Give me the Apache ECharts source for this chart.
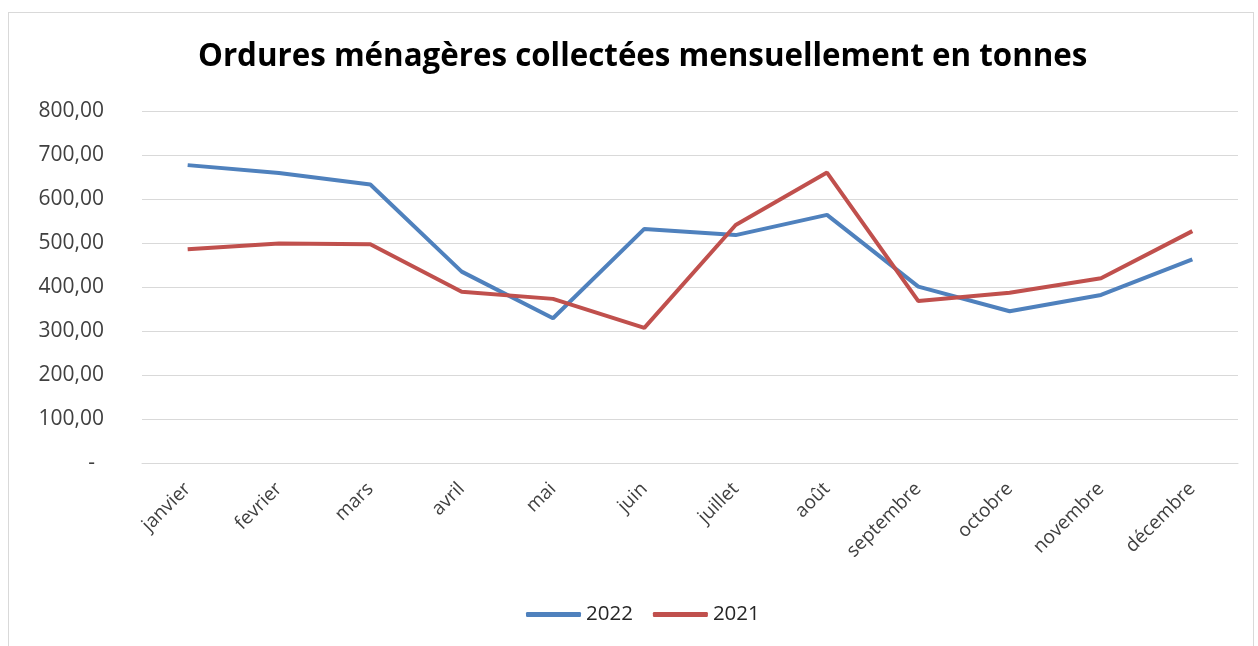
<!DOCTYPE html>
<html>
<head>
<meta charset="utf-8">
<script src="https://cdn.jsdelivr.net/npm/echarts@6/dist/echarts.min.js"></script>
<style>
  html, body { margin: 0; padding: 0; background: #fff; }
  #frame { position: absolute; left: 8px; top: 12px; width: 1246px; height: 640px; border: 1px solid #d9d9d9; box-sizing: border-box; }
  #chart { position: absolute; left: 0; top: 0; width: 1258px; height: 646px; }
</style>
</head>
<body>
<div id="frame"></div>
<div id="chart"></div>
<script>
const mois = ['janvier', 'fevrier', 'mars', 'avril', 'mai', 'juin', 'juillet', 'août', 'septembre', 'octobre', 'novembre', 'décembre'];
const tonnes2022 = [677, 659, 633, 435, 329, 532, 518, 564, 401, 345, 382, 463];
const tonnes2021 = [486, 499, 497, 389, 373, 307, 541, 660, 368, 387, 420, 527];

const chart = echarts.init(document.getElementById('chart'));

const fontFam = '"Open Sans", "Noto Sans", sans-serif';

chart.setOption({
    animation: false,
    backgroundColor: 'rgba(0,0,0,0)',
    title: {
        text: 'Ordures ménagères collectées mensuellement en tonnes',
        left: 193,
        top: 37,
        textStyle: { fontFamily: fontFam, fontSize: 31.3, fontWeight: 'bold', color: '#000' }
    },
    grid: { left: 142, right: 20, top: 111, bottom: 183 },
    legend: {
        top: 599,
        left: 521,
        itemWidth: 55,
        itemHeight: 5,
        itemGap: 20,
        icon: 'roundRect',
        textStyle: { fontFamily: fontFam, fontSize: 20.5, color: '#262626' },
        data: ['2022', '2021']
    },
    xAxis: {
        type: 'category',
        data: mois,
        boundaryGap: true,
        axisLine: { lineStyle: { color: '#d9d9d9' } },
        axisTick: { show: false },
        axisLabel: { rotate: 45, margin: 23, fontFamily: fontFam, fontSize: 19, color: '#404040' }
    },
    yAxis: {
        type: 'value',
        min: 0,
        max: 800,
        interval: 100,
        axisLine: { show: false },
        axisTick: { show: false },
        splitLine: { lineStyle: { color: '#d9d9d9', width: 1 } },
        axisLabel: {
            margin: 38,
            fontFamily: fontFam,
            fontSize: 21,
            color: '#404040',
            formatter: v => v === 0 ? '{z|-}' : v.toFixed(2).replace('.', ','),
            rich: { z: { fontFamily: fontFam, fontSize: 21, color: '#404040', padding: [0, 9, 0, 0] } }
        }
    },
    series: [
        {
            name: '2022',
            type: 'line',
            data: tonnes2022,
            symbol: 'none',
            lineStyle: { width: 4, color: '#4F81BD' },
            itemStyle: { color: '#4F81BD' }
        },
        {
            name: '2021',
            type: 'line',
            data: tonnes2021,
            symbol: 'none',
            lineStyle: { width: 4, color: '#C0504D' },
            itemStyle: { color: '#C0504D' }
        }
    ]
});
</script>
</body>
</html>
